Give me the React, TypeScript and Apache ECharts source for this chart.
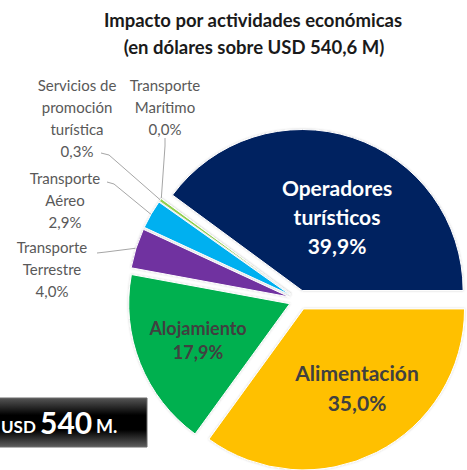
import React, { useEffect, useRef } from 'react';
import * as echarts from 'echarts';

// ---- data ----
const categories = [
  'Operadores turísticos',
  'Transporte Marítimo',
  'Servicios de promoción turística',
  'Transporte Aéreo',
  'Transporte Terrestre',
  'Alojamiento',
  'Alimentación',
];
const shares = [39.9, 0.0, 0.3, 2.9, 4.0, 17.9, 35.0];
const labelNames = [
  'Operadores\nturísticos',
  'Transporte\nMarítimo',
  'Servicios de\npromoción\nturística',
  'Transporte\nAéreo',
  'Transporte\nTerrestre',
  'Alojamiento',
  'Alimentación',
];
const sliceColors = ['#002060', '#A5A5A5', '#92D050', '#00B0F0', '#7030A0', '#00B050', '#FFC000'];
const titleLines = ['Impacto por actividades económicas', '(en dólares sobre USD 540,6 M)'];
const totalParts = ['USD', '540', 'M.'];

// ---- layout ----
const W = 467;
const H = 470;
const CX = 299;
const CY = 300;
const R = 161;
const OFFSET = 10;
const FONT = 'Lato, "Open Sans", sans-serif';

type Placement = {
  x: number;
  y: number;
  inside?: boolean;
  bend?: number[];
  end?: number[];
  size?: number;
  lh?: number;
  color?: string;
};
const placements: Placement[] = [
  { x: 337, y: 216, inside: true, size: 21, lh: 29, color: '#ffffff' },
  { x: 165, y: 74, bend: [165, 146], end: [165, 138] },
  { x: 77, y: 74, bend: [109, 155], end: [101, 153] },
  { x: 65, y: 167, bend: [114, 184], end: [107, 182] },
  { x: 52, y: 236, bend: [106, 252], end: [97, 253] },
  { x: 198, y: 340, inside: true, size: 18, lh: 24, color: '#404040' },
  { x: 357, y: 387, inside: true, size: 21, lh: 30, color: '#404040' },
];

const fmt = (v: number) => v.toFixed(1).replace('.', ',') + '%';

export default function App() {
  const ref = useRef<HTMLDivElement>(null);
  useEffect(() => {
    document.body.style.margin = '0';
    const chart = echarts.init(ref.current!, undefined, { renderer: 'svg' });

    const mainData = categories.map((name, i) => ({
      name,
      value: shares[i],
      selected: true,
      itemStyle: { color: sliceColors[i] },
    }));

    const labelData = categories.map((name, i) => {
      const p = placements[i];
      return {
        name,
        value: shares[i],
        label: p.inside
          ? {
              position: 'inside',
              formatter: labelNames[i] + '\n' + fmt(shares[i]),
              color: p.color,
              fontSize: p.size,
              lineHeight: p.lh,
              fontWeight: 'bold',
              fontFamily: FONT,
            }
          : {
              position: 'outside',
              formatter: labelNames[i] + '\n' + fmt(shares[i]),
              color: '#595959',
              fontSize: 15,
              lineHeight: 22,
              fontFamily: FONT,
            },
        labelLine: { show: !p.inside },
      };
    });

    const option: any = {
      animation: false,
      series: [
        {
          type: 'pie',
          center: [CX, CY],
          radius: [0, R],
          startAngle: 0,
          clockwise: false,
          selectedMode: 'multiple',
          selectedOffset: OFFSET,
          silent: true,
          label: { show: false },
          labelLine: { show: false },
          itemStyle: {
            borderColor: '#ffffff',
            borderWidth: 1,
            shadowBlur: 2,
            shadowColor: 'rgba(0,0,0,0.18)',
          },
          select: { itemStyle: { borderColor: '#ffffff', borderWidth: 1 } },
          emphasis: { disabled: true },
          data: mainData,
        },
        {
          type: 'pie',
          center: [CX, CY],
          radius: [0, R + OFFSET],
          startAngle: 0,
          clockwise: false,
          silent: true,
          avoidLabelOverlap: false,
          itemStyle: { color: 'rgba(0,0,0,0)', borderWidth: 0 },
          labelLine: {
            show: true,
            length: 20,
            length2: 10,
            lineStyle: { color: '#A6A6A6', width: 1 },
          },
          emphasis: { disabled: true },
          labelLayout: (params: any) => {
            const p = placements[params.dataIndex];
            if (!p) return {};
            const out: any = {
              x: p.x,
              y: p.y,
              align: 'center',
              verticalAlign: p.inside ? 'middle' : 'top',
            };
            if (p.bend && p.end) {
              let start = params.labelLinePoints && params.labelLinePoints[0];
              if (!start) {
                const before = shares.slice(0, params.dataIndex).reduce((a, b) => a + b, 0);
                const mid = ((before + shares[params.dataIndex] / 2) / 100) * Math.PI * 2;
                start = [CX + (R + OFFSET) * Math.cos(mid), CY - (R + OFFSET) * Math.sin(mid)];
              }
              out.labelLinePoints = [start, p.bend, p.end];
            }
            return out;
          },
          data: labelData,
        },
      ],
      graphic: [
        {
          type: 'text',
          x: 253,
          y: 20,
          style: {
            text: titleLines[0],
            align: 'center',
            verticalAlign: 'middle',
            font: `bold 18.5px ${FONT}`,
            fill: '#1a1a1a',
          },
        },
        {
          type: 'text',
          x: 254,
          y: 47,
          style: {
            text: titleLines[1],
            align: 'center',
            verticalAlign: 'middle',
            font: `bold 18.5px ${FONT}`,
            fill: '#1a1a1a',
          },
        },
        {
          type: 'rect',
          shape: { x: -2, y: 398, width: 149, height: 49 },
          style: {
            fill: new echarts.graphic.LinearGradient(0, 0, 0, 1, [
              { offset: 0, color: '#555555' },
              { offset: 0.35, color: '#000000' },
              { offset: 0.65, color: '#000000' },
              { offset: 1, color: '#5e5e5e' },
            ]),
            stroke: '#6b6b6b',
            lineWidth: 1,
          },
        },
        {
          type: 'text',
          x: 1,
          y: 426,
          style: {
            text: totalParts[0],
            align: 'left',
            verticalAlign: 'middle',
            font: `bold 17px ${FONT}`,
            fill: '#ffffff',
          },
        },
        {
          type: 'text',
          x: 40,
          y: 422,
          style: {
            text: totalParts[1],
            align: 'left',
            verticalAlign: 'middle',
            font: `bold 30px ${FONT}`,
            fill: '#ffffff',
          },
        },
        {
          type: 'text',
          x: 96,
          y: 426,
          style: {
            text: totalParts[2],
            align: 'left',
            verticalAlign: 'middle',
            font: `bold 18px ${FONT}`,
            fill: '#ffffff',
          },
        },
      ],
    };
    chart.setOption(option);
    return () => chart.dispose();
  }, []);
  return <div ref={ref} style={{ width: W, height: H }} />;
}
